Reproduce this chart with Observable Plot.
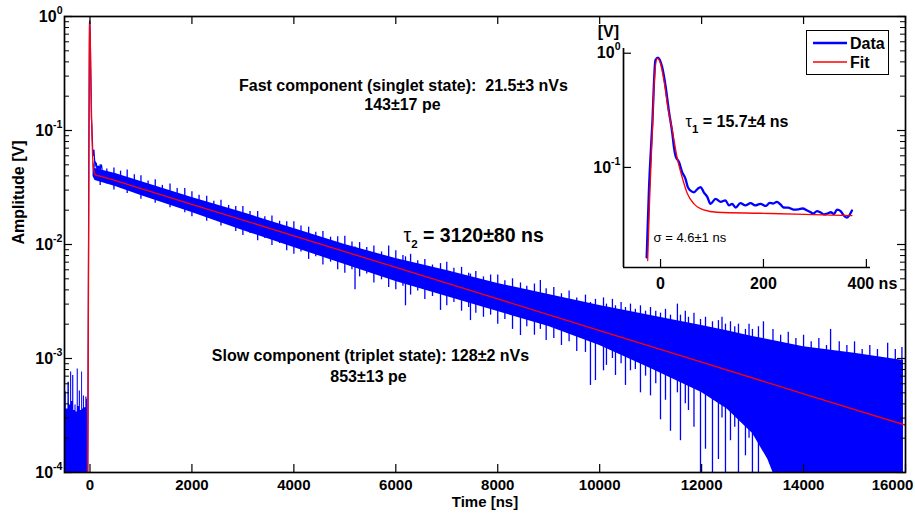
<!DOCTYPE html>
<html>
<head>
<meta charset="utf-8">
<script src="https://cdn.jsdelivr.net/npm/d3@7"></script>
<script src="https://cdn.jsdelivr.net/npm/@observablehq/plot@0.6"></script>
<style>
  html,body{margin:0;padding:0;background:#fff;}
  #chart{position:relative;width:915px;height:514px;overflow:hidden;font-family:"Liberation Sans",Arial,Helvetica,sans-serif;}
  #chart > svg{position:absolute;}
  #legend{position:absolute;left:806px;top:30px;width:83px;height:45px;box-sizing:border-box;border:1.6px solid #000;background:#fff;}
  #legend svg{position:absolute;left:0;top:0;}
</style>
</head>
<body>
<div id="chart"></div>
<script>
// ---------------- data ----------------
// main axes
const xTickValues = [0, 2000, 4000, 6000, 8000, 10000, 12000, 14000, 16000];
const xTickLabels = ["0", "2000", "4000", "6000", "8000", "10000", "12000", "14000", "16000"];
const yTickValues = [1e-4, 1e-3, 1e-2, 1e-1, 1];
const yTickLabels = ["10^-4", "10^-3", "10^-2", "10^-1", "10^0"];

// pre-trigger baseline noise (time ns, peak amplitude V)
const preTime = [-500, -481, -450, -416, -392, -369, -350, -330, -305, -284, -262, -239, -220, -200, -175, -153, -138, -122, -95, -69, -50];
const preAmp  = [4.8e-4, 5.1e-4, 3.6e-4, 6.2e-4, 3.9e-4, 7.6e-4, 4.2e-4, 7.1e-4, 3.5e-4, 3.9e-4, 3.4e-4, 8.1e-4, 3.8e-4, 5.2e-4, 3.5e-4, 7.6e-4, 3.6e-4, 4.7e-4, 3.7e-4, 4.6e-4, 4.4e-4];

// noisy slow tail: dense core of the trace
const bandTime = [60, 100, 500, 1000, 2000, 3000, 4000, 5000, 6000, 7000, 8000, 9000, 10000, 11000, 12000, 12500, 13000, 13300, 13400, 14000, 15000, 15960];
const bandHigh = [0.0546, 0.0464, 0.0420, 0.0357, 0.0258, 0.0191, 0.0138, 0.0100, 0.00753, 0.00591, 0.00455, 0.00364, 0.00292, 0.00238, 0.00195, 0.00175, 0.00156, 0.00147, 0.00144, 0.00127, 0.00111, 0.00096];
const bandLow  = [0.0395, 0.0364, 0.0323, 0.0269, 0.0191, 0.01327, 0.00941, 0.00668, 0.00473, 0.00350, 0.00258, 0.00191, 0.00130, 0.000817, 0.000503, 0.00036, 0.00022, 0.00013, 0.0001, 0.0001, 0.0001, 0.0001];

// individual noise excursions (time, low, high)
const strokeTime = [200,330,470,600,730,870, 1000,1140,1280,1420,1570,1710,1860, 2000,2140,2290,2430,2570,2720,2860, 3000,3140,3290,3430,3570,3720,3860, 4000,4140,4290,4430,4570,4720,4860, 5000,5140,5200,5290,5430,5570,5720,5860, 6000,6140,6190,6290,6430,6570,6720,6877, 7000,7140,7290,7430,7465,7570,7720,7860, 8000,8140,8290,8446,8570,8720,8836,8950, 9100,9250,9400,9550,9721,9819,9917, 10075,10133,10250,10310,10420,10506,10604,10700,10800,10900,10997, 11100,11193,11291,11389,11525,11585,11680,11742,11850,11978, 12076,12213,12330,12400,12468,12566,12650,12723,12860,12930,12997,13115,13213, 13400,13550,13700,13850,14000,14150,14300,14450,14530,14700,14850,15000,15150,15300,15450,15650,15800,15930];
const strokeLow  = [0.033,0.034,0.030,0.031,0.028,0.029, 0.025,0.026,0.023,0.024,0.021,0.0215,0.019, 0.0175,0.0185,0.0160,0.0168,0.0145,0.0150,0.0130, 0.0120,0.0125,0.0108,0.0113,0.0098,0.0102,0.0088, 0.0082,0.0086,0.0074,0.0078,0.0066,0.0070,0.0060, 0.0056,0.0060,0.0040,0.0052,0.0055,0.0046,0.0049,0.0042, 0.0040,0.0043,0.0029,0.0036,0.0039,0.0033,0.0035,0.00264, 0.0029,0.0031,0.0026,0.0028,0.00215,0.0025,0.0023,0.0024, 0.0020,0.0022,0.0018,0.00159,0.0019,0.0016,0.0018,0.00144, 0.0015,0.0013,0.0014,0.00115,0.00113,0.00058,0.00064, 0.00078,0.00087,0.0010,0.00071,0.0009,0.00058,0.00078,0.0008,0.0005,0.0007,0.00047, 0.0006,0.00029,0.00043,0.00023,0.0005,0.00019,0.0004,0.00035,0.00025,0.0001, 0.00016,0.0001,0.00013,0.0003,0.0001,0.00019,0.00025,0.0001,0.00014,0.0002,0.0001,0.0001,0.0002, 0.0012,0.0012,0.0011,0.0011,0.0010,0.0010,0.0010,0.0009,0.0009,0.0009,0.0009,0.0008,0.0008,0.0008,0.0008,0.0008,0.0007,0.0007];
const strokeHigh = [0.050,0.046,0.047,0.044,0.045,0.041, 0.040,0.036,0.037,0.033,0.034,0.031,0.031, 0.029,0.027,0.0265,0.024,0.0245,0.022,0.0215, 0.0215,0.0195,0.0195,0.0175,0.0178,0.0160,0.0158, 0.0158,0.0145,0.0142,0.0128,0.0130,0.0116,0.0117, 0.0118,0.0105,0.0095,0.0104,0.0094,0.0097,0.0086,0.0097, 0.0088,0.0080,0.0078,0.0082,0.0072,0.0074,0.0066,0.0068, 0.0070,0.0062,0.0063,0.0056,0.0055,0.0058,0.0052,0.0054, 0.0054,0.0048,0.0050,0.0046,0.0043,0.0045,0.00483,0.0041, 0.0042,0.0037,0.0039,0.0034,0.0036,0.0031,0.0033, 0.0034,0.0030,0.0033,0.0029,0.0031,0.0028,0.0030,0.0027,0.0029,0.0026,0.0028, 0.0026,0.0025,0.0027,0.0024,0.0030,0.0024,0.0026,0.0023,0.0025,0.0022, 0.0023,0.0021,0.00215,0.0023,0.0020,0.0021,0.0019,0.0020,0.0018,0.0020,0.0018,0.0019,0.0021, 0.0018,0.0016,0.0017,0.0015,0.0016,0.0014,0.0015,0.0013,0.0018,0.0014,0.0013,0.0014,0.0012,0.0013,0.0012,0.00136,0.0012,0.00125];

// pulse onset (bottom of axis)
const dataOnsetTime = [-45];
const fitOnsetTime = [-43];
const onsetAmp = [1e-4];

// fast part (inset): data
const insetDataTime = [-27, -22.6, -16, -10, -5, 3, 10, 16, 23, 26, 29, 36, 42, 48.5, 53, 58, 65, 72, 78, 84, 91, 97, 107, 117, 126, 133, 139, 146, 155, 165, 175, 184, 194, 205, 212, 219, 226, 233, 239, 248, 258, 268, 276, 285, 290, 297, 304, 311, 318, 324, 331, 337, 343, 350, 356, 362, 372];
const insetDataAmp  = [0.0163, 0.063, 0.242, 0.87, 0.917, 0.76, 0.506, 0.316, 0.197, 0.151, 0.127, 0.111, 0.091, 0.0795, 0.0672, 0.0628, 0.0606, 0.065, 0.0672, 0.0606, 0.055, 0.048, 0.053, 0.050, 0.0515, 0.0465, 0.048, 0.0445, 0.0487, 0.0465, 0.0487, 0.0465, 0.048, 0.046, 0.049, 0.0483, 0.050, 0.0474, 0.0446, 0.0445, 0.0428, 0.043, 0.0437, 0.0420, 0.041, 0.0395, 0.0415, 0.0403, 0.0388, 0.0395, 0.0405, 0.039, 0.0428, 0.0415, 0.0379, 0.0364, 0.0420];
// fast part (inset): fit
const insetFitTime = [-25, -21, -16, -12, -6.5, 0, 6.5, 14, 23, 32, 42, 52, 65, 84, 110, 194, 280, 372];
const insetFitAmp  = [0.0153, 0.055, 0.21, 0.58, 0.90, 0.81, 0.58, 0.34, 0.21, 0.123, 0.082, 0.059, 0.048, 0.0425, 0.0405, 0.0397, 0.0388, 0.0379];
// slow part of the fit
const slowFitTime = [2000, 4000, 6000, 8000, 10000, 12000, 14000, 16000];
const slowFitAmp  = [0.0225, 0.0119, 0.0063, 0.00333, 0.00176, 0.00093, 0.00049, 0.00026];

// inset axes
const insetXTickValues = [0, 200, 400];
const insetXTickLabels = ["0", "200", "400 ns"];
const insetYTickValues = [0.1, 1];
const insetYTickLabels = ["10^-1", "10^0"];

// ---------------- build ----------------
const BLUE = "#0000ff", RED = "#ff0000";
const FONT = '"Liberation Sans", Arial, Helvetica, sans-serif';
const W = 915, H = 514, mt = 16, mb = 42, ml = 64, mr = 10;
const FW = W - ml - mr, FH = H - mt - mb;
const xDomain = [-500, 16000], yDomain = [1e-4, 1];

const pre = preTime.map((t, i) => ({t, a: preAmp[i]}));
const band = bandTime.map((t, i) => ({t, lo: bandLow[i], hi: bandHigh[i]}));
const strokes = strokeTime.map((t, i) => ({t, lo: strokeLow[i], hi: strokeHigh[i]}));
const insetData = insetDataTime.map((t, i) => ({t, a: insetDataAmp[i]}));
const insetFit = insetFitTime.map((t, i) => ({t, a: insetFitAmp[i]}));
const mainData = [...dataOnsetTime.map((t, i) => ({t, a: onsetAmp[i]})), ...insetData];
const mainFit = [...fitOnsetTime.map((t, i) => ({t, a: onsetAmp[i]})), ...insetFit,
                 ...slowFitTime.map((t, i) => ({t, a: slowFitAmp[i]}))];

const isDecade = v => Math.abs(Math.log10(v) - Math.round(Math.log10(v))) < 1e-6;
const yMinor = d3.scaleLog().domain(yDomain).ticks().filter(v => !isDecade(v));

const fmt = (vals, labs) => d => { const i = vals.findIndex(v => Math.abs(v - d) < 1e-9 * Math.max(1, Math.abs(v))); return i < 0 ? "" : labs[i]; };

const main = Plot.plot({
  width: W, height: H, marginTop: mt, marginBottom: mb, marginLeft: ml, marginRight: mr,
  style: {fontFamily: FONT, fontWeight: "bold", fontSize: "15px", background: "transparent", overflow: "visible"},
  x: {domain: xDomain},
  y: {type: "log", domain: yDomain},
  marks: [
    Plot.areaY(pre, {x: "t", y1: yDomain[0], y2: "a", fill: BLUE, curve: "step", clip: true}),
    Plot.areaY(band, {x: "t", y1: "lo", y2: "hi", fill: BLUE, clip: true}),
    Plot.ruleX(strokes, {x: "t", y1: "lo", y2: "hi", stroke: BLUE, strokeWidth: 1.3, clip: true}),
    Plot.line(mainData, {x: "t", y: "a", stroke: BLUE, strokeWidth: 1.2, clip: true}),
    Plot.line(mainFit, {x: "t", y: "a", stroke: RED, strokeWidth: 1.3, clip: true}),
    Plot.tickX(xTickValues, {x: d => d, insetTop: FH - 8, stroke: "black", strokeWidth: 1.2}),
    Plot.tickX(xTickValues, {x: d => d, insetBottom: FH - 8, stroke: "black", strokeWidth: 1.2}),
    Plot.tickY(yTickValues, {y: d => d, insetRight: FW - 8, stroke: "black", strokeWidth: 1.2}),
    Plot.tickY(yTickValues, {y: d => d, insetLeft: FW - 8, stroke: "black", strokeWidth: 1.2}),
    Plot.tickY(yMinor, {y: d => d, insetRight: FW - 5, stroke: "black", strokeWidth: 1}),
    Plot.tickY(yMinor, {y: d => d, insetLeft: FW - 5, stroke: "black", strokeWidth: 1}),
    Plot.frame({stroke: "black", strokeWidth: 1.7}),
    Plot.axisX(xTickValues, {tickSize: 0, tickPadding: 7, tickFormat: fmt(xTickValues, xTickLabels), label: null, fontSize: 15}),
    Plot.axisY(yTickValues, {tickSize: 0, tickPadding: 2, tickFormat: fmt(yTickValues, yTickLabels), label: null, fontSize: 16}),
    Plot.text(["Time [ns]"], {frameAnchor: "bottom", dy: 34, fontSize: 15}),
    Plot.text(["Amplitude [V]"], {frameAnchor: "left", rotate: -90, dx: -46, fontSize: 16}),
    Plot.text(["Fast component (singlet state):  21.5±3 nVs"], {x: 6150, y: 0.245, fontSize: 16}),
    Plot.text(["143±17 pe"], {x: 6130, y: 0.168, fontSize: 16}),
    Plot.text(["τ_2 = 3120±80 ns"], {x: 6150, y: 0.0119, textAnchor: "start", fontSize: 19.5}),
    Plot.text(["Slow component (triplet state): 128±2 nVs"], {x: 5503, y: 0.00105, fontSize: 16}),
    Plot.text(["853±13 pe"], {x: 5464, y: 6.87e-4, fontSize: 16})
  ]
});

const IW = 335, IH = 280, iml = 43, imr = 45, imt = 28, imb = 33;
const IFW = IW - iml - imr, IFH = IH - imt - imb;
const insetXDomain = [-72, 408], insetYDomain = [0.0133, 1.1];
const inset = Plot.plot({
  width: IW, height: IH, marginTop: imt, marginBottom: imb, marginLeft: iml, marginRight: imr,
  style: {fontFamily: FONT, fontWeight: "bold", fontSize: "16px", background: "transparent", overflow: "visible"},
  x: {domain: insetXDomain},
  y: {type: "log", domain: insetYDomain},
  marks: [
    Plot.line(insetData, {x: "t", y: "a", stroke: BLUE, strokeWidth: 2.3, curve: "monotone-x", clip: true}),
    Plot.line(insetFit, {x: "t", y: "a", stroke: RED, strokeWidth: 1.3, curve: "monotone-x", clip: true}),
    Plot.ruleX([insetXDomain[0]], {stroke: "black", strokeWidth: 1.7}),
    Plot.ruleY([insetYDomain[0]], {stroke: "black", strokeWidth: 1.7}),
    Plot.tickX(insetXTickValues, {x: d => d, insetTop: IFH - 8, stroke: "black", strokeWidth: 1.2}),
    Plot.tickY(insetYTickValues, {y: d => d, insetRight: IFW - 8, stroke: "black", strokeWidth: 1.2}),
    Plot.axisX(insetXTickValues, {tickSize: 0, tickPadding: 10, tickFormat: fmt(insetXTickValues, insetXTickLabels), label: null, fontSize: 16}),
    Plot.axisY(insetYTickValues, {tickSize: 0, tickPadding: 3, tickFormat: fmt(insetYTickValues, insetYTickLabels), label: null, fontSize: 16}),
    Plot.text(["[V]"], {x: -122, y: 1.55, textAnchor: "start", fontSize: 16}),
    Plot.text(["τ_1 = 15.7±4 ns"], {x: 48.6, y: 0.249, textAnchor: "start", fontSize: 16}),
    Plot.text(["σ = 4.6±1 ns"], {x: -13.6, y: 0.0241, textAnchor: "start", fontSize: 13, fontWeight: "normal"})
  ]
});

function decorate(svg) {
  d3.select(svg).selectAll("text").each(function () {
    const s = this.textContent;
    const el = d3.select(this);
    const fs = parseFloat(getComputedStyle(this).fontSize) || 16;
    let m;
    if ((m = s.match(/^([^^]*)\^(.*)$/))) {
      el.text(null);
      el.append("tspan").text(m[1]);
      el.append("tspan").attr("dy", -0.5 * fs).attr("font-size", 0.66 * fs).text(m[2]);
    } else if ((m = s.match(/^([^_]*)_(\S)(.*)$/))) {
      el.text(null);
      el.append("tspan").attr("font-weight", "normal").text(m[1]);
      el.append("tspan").attr("dy", 0.38 * fs).attr("font-size", 0.72 * fs).text(m[2]);
      el.append("tspan").attr("dy", -0.38 * fs).text(m[3]);
    }
    if (s === "400 ns") el.attr("dx", 6);
    if (s === "16000") el.attr("dx", -13);
  });
}
decorate(main);
decorate(inset);

const chart = document.getElementById("chart");
main.style.left = "0px"; main.style.top = "0px";
inset.style.left = "580px"; inset.style.top = "20px";
chart.appendChild(main);
chart.appendChild(inset);

const legend = document.createElement("div");
legend.id = "legend";
legend.innerHTML =
  '<svg width="83" height="45" style="font-family:' + FONT.replace(/"/g, "'") + ';font-weight:bold;font-size:16px">' +
  '<line x1="6" y1="12" x2="40" y2="12" stroke="' + BLUE + '" stroke-width="2.3"/>' +
  '<text x="43" y="17.5">Data</text>' +
  '<line x1="6" y1="31" x2="40" y2="31" stroke="' + RED + '" stroke-width="1.5"/>' +
  '<text x="43" y="36.5">Fit</text></svg>';
chart.appendChild(legend);
</script>
</body>
</html>
